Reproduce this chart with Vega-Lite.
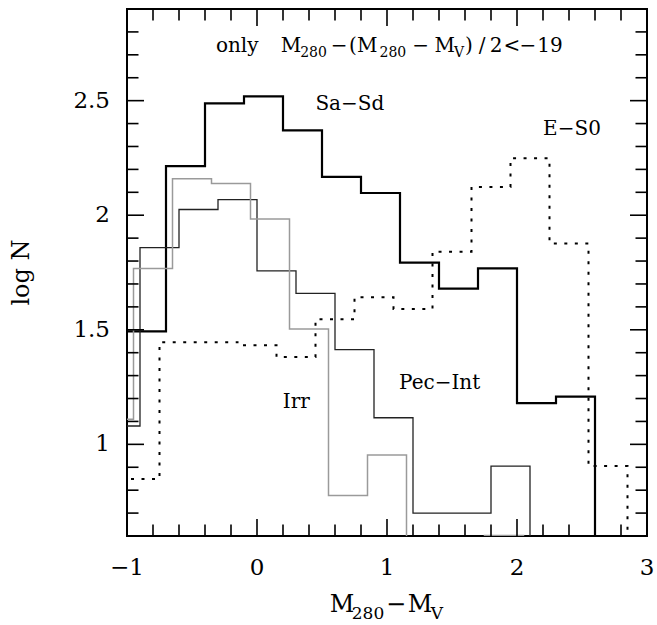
{
  "$schema": "https://vega.github.io/schema/vega-lite/v6.json",
  "width": 520,
  "height": 527,
  "autosize": "none",
  "padding": {"left": 127, "top": 9, "right": 10, "bottom": 89},
  "background": "white",
  "config": {
    "view": {"stroke": "black", "strokeWidth": 2},
    "text": {"font": "DejaVu Serif", "color": "black"},
    "rule": {"color": "black", "strokeWidth": 1.6}
  },
  "datasets": {
    "hist": [
      {"g": "Sa-Sd", "x": -1.0, "y": 1.493},
      {"g": "Sa-Sd", "x": -0.7, "y": 2.214},
      {"g": "Sa-Sd", "x": -0.4, "y": 2.488},
      {"g": "Sa-Sd", "x": -0.1, "y": 2.519},
      {"g": "Sa-Sd", "x": 0.2, "y": 2.37},
      {"g": "Sa-Sd", "x": 0.5, "y": 2.167},
      {"g": "Sa-Sd", "x": 0.8, "y": 2.097},
      {"g": "Sa-Sd", "x": 1.1, "y": 1.793},
      {"g": "Sa-Sd", "x": 1.4, "y": 1.68},
      {"g": "Sa-Sd", "x": 1.7, "y": 1.768},
      {"g": "Sa-Sd", "x": 2.0, "y": 1.18},
      {"g": "Sa-Sd", "x": 2.3, "y": 1.208},
      {"g": "Sa-Sd", "x": 2.6, "y": 0},
      {"g": "Pec-Int", "x": -1.2, "y": 1.08},
      {"g": "Pec-Int", "x": -0.9, "y": 1.859},
      {"g": "Pec-Int", "x": -0.6, "y": 2.025},
      {"g": "Pec-Int", "x": -0.3, "y": 2.068},
      {"g": "Pec-Int", "x": 0.0, "y": 1.757},
      {"g": "Pec-Int", "x": 0.3, "y": 1.659},
      {"g": "Pec-Int", "x": 0.6, "y": 1.413},
      {"g": "Pec-Int", "x": 0.9, "y": 1.116},
      {"g": "Pec-Int", "x": 1.2, "y": 0.7},
      {"g": "Pec-Int", "x": 1.5, "y": 0.7},
      {"g": "Pec-Int", "x": 1.8, "y": 0.905},
      {"g": "Pec-Int", "x": 2.1, "y": 0},
      {"g": "Irr", "x": -1.25, "y": 1.11},
      {"g": "Irr", "x": -0.95, "y": 1.768},
      {"g": "Irr", "x": -0.65, "y": 2.159},
      {"g": "Irr", "x": -0.35, "y": 2.138},
      {"g": "Irr", "x": -0.05, "y": 1.983},
      {"g": "Irr", "x": 0.25, "y": 1.503},
      {"g": "Irr", "x": 0.55, "y": 0.777},
      {"g": "Irr", "x": 0.85, "y": 0.953},
      {"g": "Irr", "x": 1.15, "y": 0},
      {"g": "Irr", "x": 1.45, "y": 0},
      {"g": "Irr", "x": 1.75, "y": 0.602},
      {"g": "Irr", "x": 2.05, "y": 0},
      {"g": "E-S0", "x": -1.05, "y": 0.849},
      {"g": "E-S0", "x": -0.75, "y": 1.446},
      {"g": "E-S0", "x": -0.45, "y": 1.446},
      {"g": "E-S0", "x": -0.15, "y": 1.432},
      {"g": "E-S0", "x": 0.15, "y": 1.381},
      {"g": "E-S0", "x": 0.45, "y": 1.546},
      {"g": "E-S0", "x": 0.75, "y": 1.642},
      {"g": "E-S0", "x": 1.05, "y": 1.591},
      {"g": "E-S0", "x": 1.35, "y": 1.841},
      {"g": "E-S0", "x": 1.65, "y": 2.123},
      {"g": "E-S0", "x": 1.95, "y": 2.249},
      {"g": "E-S0", "x": 2.25, "y": 1.877},
      {"g": "E-S0", "x": 2.55, "y": 0.905},
      {"g": "E-S0", "x": 2.85, "y": 0}
    ],
    "xMajor": [{"v": -1}, {"v": 0}, {"v": 1}, {"v": 2}, {"v": 3}],
    "xMinor": [
      {"v": -0.8}, {"v": -0.6}, {"v": -0.4}, {"v": -0.2},
      {"v": 0.2}, {"v": 0.4}, {"v": 0.6}, {"v": 0.8},
      {"v": 1.2}, {"v": 1.4}, {"v": 1.6}, {"v": 1.8},
      {"v": 2.2}, {"v": 2.4}, {"v": 2.6}, {"v": 2.8}
    ],
    "yMajor": [{"v": 1}, {"v": 1.5}, {"v": 2}, {"v": 2.5}],
    "yMinor": [
      {"v": 0.7}, {"v": 0.8}, {"v": 0.9},
      {"v": 1.1}, {"v": 1.2}, {"v": 1.3}, {"v": 1.4},
      {"v": 1.6}, {"v": 1.7}, {"v": 1.8}, {"v": 1.9},
      {"v": 2.1}, {"v": 2.2}, {"v": 2.3}, {"v": 2.4},
      {"v": 2.6}, {"v": 2.7}, {"v": 2.8}
    ],
    "yTitle": [{"t": "log N"}],
    "notes": [
      {"x": -0.1523, "y": 2.7136, "t": "only"},
      {"x": 0.2608, "y": 2.7136, "t": "M"},
      {"x": 0.6323, "y": 2.7136, "t": "−"},
      {"x": 0.7385, "y": 2.7136, "t": "("},
      {"x": 0.8485, "y": 2.7136, "t": "M"},
      {"x": 1.2577, "y": 2.7136, "t": "−"},
      {"x": 1.4446, "y": 2.7136, "t": "M"},
      {"x": 1.6308, "y": 2.7136, "t": ")"},
      {"x": 1.7308, "y": 2.7136, "t": "/"},
      {"x": 1.8385, "y": 2.7136, "t": "2"},
      {"x": 1.9615, "y": 2.7136, "t": "<"},
      {"x": 2.0846, "y": 2.7136, "t": "−"},
      {"x": 2.2538, "y": 2.7136, "t": "19"},
      {"x": 0.7142, "y": 2.4592, "t": "Sa−Sd"},
      {"x": 2.4231, "y": 2.3501, "t": "E−S0"},
      {"x": 1.405, "y": 1.2416, "t": "Pec−Int"},
      {"x": 0.3023, "y": 1.1608, "t": "Irr"}
    ],
    "noteSubs": [
      {"x": 0.4346, "y": 2.6918, "t": "280"},
      {"x": 1.045, "y": 2.6918, "t": "280"},
      {"x": 1.5538, "y": 2.6918, "t": "V"}
    ],
    "xTitle": [
      {"x": 0.6538, "y": 0.2688, "t": "M"},
      {"x": 1.0692, "y": 0.2688, "t": "−"},
      {"x": 1.2538, "y": 0.2688, "t": "M"}
    ],
    "xTitleSubs": [
      {"x": 0.8538, "y": 0.2383, "t": "280"},
      {"x": 1.3846, "y": 0.2383, "t": "V"}
    ]
  },
  "layer": [
    {
      "data": {"name": "hist"},
      "transform": [{"filter": "datum.g === 'E-S0'"}],
      "mark": {"type": "line", "interpolate": "step-after", "clip": true, "color": "black", "strokeWidth": 2, "strokeDash": [3, 7.5]},
      "encoding": {
        "x": {"field": "x", "type": "quantitative", "scale": {"domain": [-1, 3], "nice": false, "zero": false}, "axis": null},
        "y": {"field": "y", "type": "quantitative", "scale": {"domain": [0.6, 2.9], "nice": false, "zero": false}, "axis": null}
      }
    },
    {
      "data": {"name": "hist"},
      "transform": [{"filter": "datum.g === 'Sa-Sd'"}],
      "mark": {"type": "line", "interpolate": "step-after", "clip": true, "color": "black", "strokeWidth": 2.2},
      "encoding": {
        "x": {"field": "x", "type": "quantitative", "scale": {"domain": [-1, 3], "nice": false, "zero": false}, "axis": null},
        "y": {"field": "y", "type": "quantitative", "scale": {"domain": [0.6, 2.9], "nice": false, "zero": false}, "axis": null}
      }
    },
    {
      "data": {"name": "hist"},
      "transform": [{"filter": "datum.g === 'Pec-Int'"}],
      "mark": {"type": "line", "interpolate": "step-after", "clip": true, "color": "#222222", "strokeWidth": 1.3},
      "encoding": {
        "x": {"field": "x", "type": "quantitative", "scale": {"domain": [-1, 3], "nice": false, "zero": false}, "axis": null},
        "y": {"field": "y", "type": "quantitative", "scale": {"domain": [0.6, 2.9], "nice": false, "zero": false}, "axis": null}
      }
    },
    {
      "data": {"name": "hist"},
      "transform": [{"filter": "datum.g === 'Irr'"}],
      "mark": {"type": "line", "interpolate": "step-after", "clip": true, "color": "#9a9a9a", "strokeWidth": 1.5},
      "encoding": {
        "x": {"field": "x", "type": "quantitative", "scale": {"domain": [-1, 3], "nice": false, "zero": false}, "axis": null},
        "y": {"field": "y", "type": "quantitative", "scale": {"domain": [0.6, 2.9], "nice": false, "zero": false}, "axis": null}
      }
    },
    {
      "data": {"name": "xMajor"},
      "mark": {"type": "rule"},
      "encoding": {
        "x": {"field": "v", "type": "quantitative", "scale": {"domain": [-1, 3], "nice": false, "zero": false}, "axis": null},
        "y": {"datum": 0.6, "type": "quantitative", "scale": {"domain": [0.6, 2.9], "nice": false, "zero": false}, "axis": null},
        "y2": {"datum": 0.6742}
      }
    },
    {
      "data": {"name": "xMajor"},
      "mark": {"type": "rule"},
      "encoding": {
        "x": {"field": "v", "type": "quantitative", "scale": {"domain": [-1, 3], "nice": false, "zero": false}, "axis": null},
        "y": {"datum": 2.9, "type": "quantitative", "scale": {"domain": [0.6, 2.9], "nice": false, "zero": false}, "axis": null},
        "y2": {"datum": 2.8258}
      }
    },
    {
      "data": {"name": "xMinor"},
      "mark": {"type": "rule"},
      "encoding": {
        "x": {"field": "v", "type": "quantitative", "scale": {"domain": [-1, 3], "nice": false, "zero": false}, "axis": null},
        "y": {"datum": 0.6, "type": "quantitative", "scale": {"domain": [0.6, 2.9], "nice": false, "zero": false}, "axis": null},
        "y2": {"datum": 0.6502}
      }
    },
    {
      "data": {"name": "xMinor"},
      "mark": {"type": "rule"},
      "encoding": {
        "x": {"field": "v", "type": "quantitative", "scale": {"domain": [-1, 3], "nice": false, "zero": false}, "axis": null},
        "y": {"datum": 2.9, "type": "quantitative", "scale": {"domain": [0.6, 2.9], "nice": false, "zero": false}, "axis": null},
        "y2": {"datum": 2.8498}
      }
    },
    {
      "data": {"name": "yMajor"},
      "mark": {"type": "rule"},
      "encoding": {
        "y": {"field": "v", "type": "quantitative", "scale": {"domain": [0.6, 2.9], "nice": false, "zero": false}, "axis": null},
        "x": {"datum": -1, "type": "quantitative", "scale": {"domain": [-1, 3], "nice": false, "zero": false}, "axis": null},
        "x2": {"datum": -0.8692}
      }
    },
    {
      "data": {"name": "yMajor"},
      "mark": {"type": "rule"},
      "encoding": {
        "y": {"field": "v", "type": "quantitative", "scale": {"domain": [0.6, 2.9], "nice": false, "zero": false}, "axis": null},
        "x": {"datum": 3, "type": "quantitative", "scale": {"domain": [-1, 3], "nice": false, "zero": false}, "axis": null},
        "x2": {"datum": 2.8692}
      }
    },
    {
      "data": {"name": "yMinor"},
      "mark": {"type": "rule"},
      "encoding": {
        "y": {"field": "v", "type": "quantitative", "scale": {"domain": [0.6, 2.9], "nice": false, "zero": false}, "axis": null},
        "x": {"datum": -1, "type": "quantitative", "scale": {"domain": [-1, 3], "nice": false, "zero": false}, "axis": null},
        "x2": {"datum": -0.9115}
      }
    },
    {
      "data": {"name": "yMinor"},
      "mark": {"type": "rule"},
      "encoding": {
        "y": {"field": "v", "type": "quantitative", "scale": {"domain": [0.6, 2.9], "nice": false, "zero": false}, "axis": null},
        "x": {"datum": 3, "type": "quantitative", "scale": {"domain": [-1, 3], "nice": false, "zero": false}, "axis": null},
        "x2": {"datum": 2.9115}
      }
    },
    {
      "data": {"name": "xMajor"},
      "mark": {"type": "text", "fontSize": 23, "align": "center", "baseline": "top", "dy": 21},
      "encoding": {
        "x": {"field": "v", "type": "quantitative", "scale": {"domain": [-1, 3], "nice": false, "zero": false}, "axis": null},
        "y": {"datum": 0.6, "type": "quantitative", "scale": {"domain": [0.6, 2.9], "nice": false, "zero": false}, "axis": null},
        "text": {"field": "v", "type": "quantitative", "format": "~g"}
      }
    },
    {
      "data": {"name": "yMajor"},
      "mark": {"type": "text", "fontSize": 23, "align": "right", "baseline": "middle", "dx": -17},
      "encoding": {
        "y": {"field": "v", "type": "quantitative", "scale": {"domain": [0.6, 2.9], "nice": false, "zero": false}, "axis": null},
        "x": {"datum": -1, "type": "quantitative", "scale": {"domain": [-1, 3], "nice": false, "zero": false}, "axis": null},
        "text": {"field": "v", "type": "quantitative", "format": "~g"}
      }
    },
    {
      "data": {"name": "yTitle"},
      "mark": {"type": "text", "fontSize": 24, "align": "center", "baseline": "bottom", "angle": 270, "dy": -93},
      "encoding": {
        "x": {"datum": -1, "type": "quantitative", "scale": {"domain": [-1, 3], "nice": false, "zero": false}, "axis": null},
        "y": {"datum": 1.75, "type": "quantitative", "scale": {"domain": [0.6, 2.9], "nice": false, "zero": false}, "axis": null},
        "text": {"field": "t"}
      }
    },
    {
      "data": {"name": "notes"},
      "mark": {"type": "text", "fontSize": 20, "align": "center", "baseline": "alphabetic"},
      "encoding": {
        "x": {"field": "x", "type": "quantitative", "scale": {"domain": [-1, 3], "nice": false, "zero": false}, "axis": null},
        "y": {"field": "y", "type": "quantitative", "scale": {"domain": [0.6, 2.9], "nice": false, "zero": false}, "axis": null},
        "text": {"field": "t"}
      }
    },
    {
      "data": {"name": "noteSubs"},
      "mark": {"type": "text", "fontSize": 14, "align": "center", "baseline": "alphabetic"},
      "encoding": {
        "x": {"field": "x", "type": "quantitative", "scale": {"domain": [-1, 3], "nice": false, "zero": false}, "axis": null},
        "y": {"field": "y", "type": "quantitative", "scale": {"domain": [0.6, 2.9], "nice": false, "zero": false}, "axis": null},
        "text": {"field": "t"}
      }
    },
    {
      "data": {"name": "xTitle"},
      "mark": {"type": "text", "fontSize": 24, "align": "center", "baseline": "alphabetic"},
      "encoding": {
        "x": {"field": "x", "type": "quantitative", "scale": {"domain": [-1, 3], "nice": false, "zero": false}, "axis": null},
        "y": {"field": "y", "type": "quantitative", "scale": {"domain": [0.6, 2.9], "nice": false, "zero": false}, "axis": null},
        "text": {"field": "t"}
      }
    },
    {
      "data": {"name": "xTitleSubs"},
      "mark": {"type": "text", "fontSize": 17, "align": "center", "baseline": "alphabetic"},
      "encoding": {
        "x": {"field": "x", "type": "quantitative", "scale": {"domain": [-1, 3], "nice": false, "zero": false}, "axis": null},
        "y": {"field": "y", "type": "quantitative", "scale": {"domain": [0.6, 2.9], "nice": false, "zero": false}, "axis": null},
        "text": {"field": "t"}
      }
    }
  ]
}
